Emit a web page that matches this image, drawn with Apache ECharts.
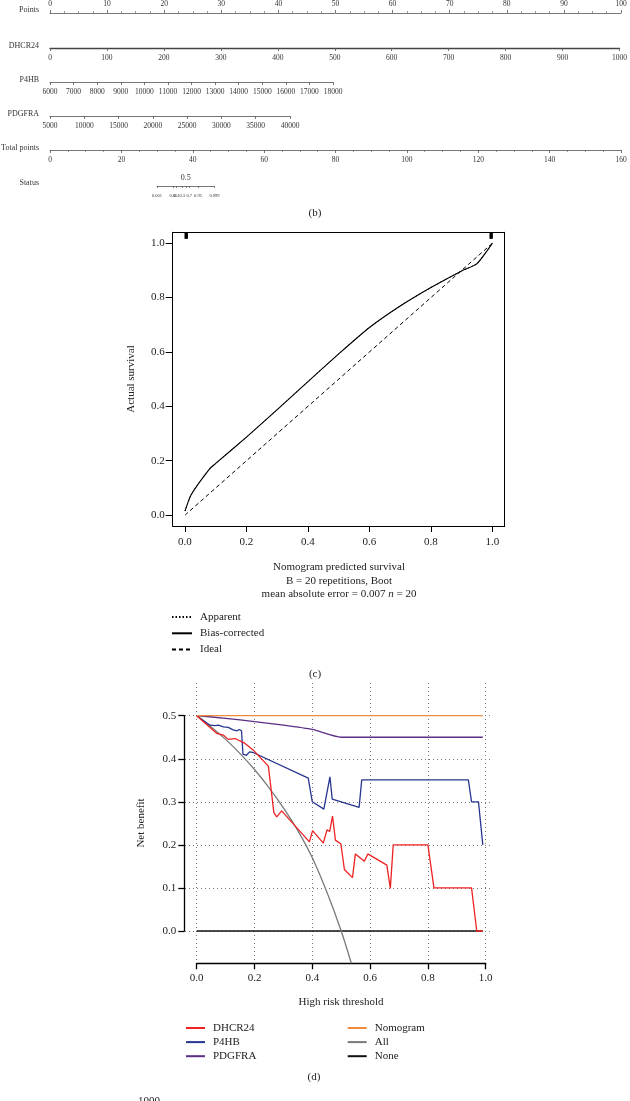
<!DOCTYPE html>
<html><head><meta charset="utf-8">
<script src="https://cdn.jsdelivr.net/npm/echarts@6/dist/echarts.min.js"></script>
<style>html,body{margin:0;padding:0;background:#fff}#c{width:630px;height:1101px}</style>
</head><body><div id="c"></div><script>
// ---------------- DATA ----------------
// Nomogram (b): axis scales [min, max, step]
const nomoLabels = ['Points', 'DHCR24', 'P4HB', 'PDGFRA', 'Total points', 'Status'];
const pointsScale = [0, 100, 10];
const dhcr24Scale = [0, 1000, 100];
const p4hbScale = [6000, 18000, 1000];
const pdgfraScale = [5000, 40000, 5000];
const totalScale = [0, 160, 20];
const statusTicks = [0.001, 0.05, 0.1, 0.3, 0.5, 0.7, 0.95, 0.999];
const statusTopTicks = [0.5];

// Calibration (c)
const calTicks = [0, 0.2, 0.4, 0.6, 0.8, 1.0];
const calX = [0, 0.02, 0.08, 0.1, 0.2, 0.3, 0.4, 0.5, 0.6, 0.7, 0.8, 0.9, 0.95, 1.0];
const calApparent = [0.015, 0.075, 0.17, 0.19, 0.287, 0.388, 0.491, 0.593, 0.69, 0.769, 0.837, 0.898, 0.925, 1.0];
const calBiasCorrected = [0.015, 0.075, 0.17, 0.19, 0.287, 0.388, 0.491, 0.593, 0.69, 0.769, 0.837, 0.898, 0.925, 1.0];
const calIdealX = [0, 1];
const calIdealY = [0, 1];
const calRug = [0.001, 0.004, 0.007, 0.993, 0.996, 0.999];

// Decision curve (d): [threshold, net benefit]
const dcaDHCR24 = [[0,0.5],[0.069,0.459],[0.092,0.455],[0.109,0.445],[0.133,0.447],[0.164,0.437],[0.196,0.42],[0.248,0.383],[0.267,0.275],[0.277,0.265],[0.294,0.279],[0.39,0.207],[0.401,0.233],[0.438,0.204],[0.451,0.235],[0.46,0.231],[0.47,0.267],[0.48,0.211],[0.499,0.202],[0.511,0.143],[0.539,0.124],[0.549,0.179],[0.58,0.162],[0.592,0.179],[0.658,0.153],[0.67,0.099],[0.68,0.2],[0.8,0.2],[0.821,0.1],[0.951,0.1],[0.969,0],[0.99,0]];
const dcaP4HB = [[0,0.5],[0.046,0.478],[0.063,0.477],[0.075,0.478],[0.092,0.474],[0.109,0.473],[0.126,0.467],[0.14,0.465],[0.147,0.468],[0.155,0.465],[0.16,0.411],[0.172,0.408],[0.183,0.416],[0.197,0.414],[0.386,0.355],[0.4,0.3],[0.44,0.283],[0.461,0.358],[0.469,0.306],[0.562,0.287],[0.571,0.351],[0.94,0.351],[0.951,0.3],[0.975,0.3],[0.99,0.2]];
const dcaPDGFRA = [[0,0.5],[0.1,0.494],[0.2,0.486],[0.3,0.478],[0.4,0.468],[0.5,0.45],[0.99,0.45]];
const dcaNomogram = [[0,0.5],[0.99,0.5]];
const dcaAll = [[0,0.5],[0.05,0.474],[0.1,0.445],[0.15,0.412],[0.2,0.375],[0.25,0.333],[0.3,0.286],[0.35,0.233],[0.4,0.17],[0.45,0.091],[0.5,0.0],[0.535,-0.075]];
const dcaNone = [[0,0],[0.99,0]];
const dcaXTicks = [0, 1, 0.2];
const dcaYTicks = [0, 0.5, 0.1];

// ---------------- CHART ----------------
const SERIF = 'Liberation Serif';
const logit = p => Math.log(p / (1 - p));
const statusLabel = v => { const t = statusTicks.find(p => Math.abs(logit(p) - v) < 1e-6); return t === undefined ? '' : String(t); };
const plain = v => String(v);
const fix1 = v => (Math.round(v * 10) / 10).toFixed(1);

const nomoAxisColor = '#555';
function nomoX(gi, scale, pos, extra) {
  return Object.assign({
    gridIndex: gi, type: 'value', min: scale[0], max: scale[1], interval: scale[2], position: pos,
    axisLine: { show: true, onZero: false, lineStyle: { color: nomoAxisColor, width: 0.8 } },
    axisTick: { show: true, length: 3, lineStyle: { color: nomoAxisColor, width: 0.8 } },
    axisLabel: { show: true, fontFamily: SERIF, fontSize: 7.5, color: '#333', margin: 6, formatter: plain },
    splitLine: { show: false }
  }, extra || {});
}
const hiddenY = gi => ({ gridIndex: gi, type: 'value', show: false, min: 0, max: 1, splitLine: { show: false } });

// nomogram row geometry: [left, width, axisY]
const nomoGeo = [[50, 571, 13], [50, 571, 48], [50, 283, 82], [50, 240, 116], [50, 571, 150], [157, 57.5, 186]];
const grids = nomoGeo.map((g, i) => ({ left: g[0], width: g[1], top: i === 0 ? g[2] : g[2] - 1, height: 1 }));
// calibration plot box (6)
grids.push({ left: 172.7, right: 125.3, top: 232.3, bottom: 575 });
// DCA: vertical dotted grid (7), horizontal dotted grid (8), data grid (9)
grids.push({ left: 196.7, right: 144.3, top: 683, bottom: 141 });
grids.push({ left: 185, right: 138, top: 715.7, bottom: 170 });
grids.push({ left: 196.7, right: 144.3, top: 715.7, bottom: 170 });

const minor = { show: true, splitNumber: 4, length: 2, lineStyle: { color: nomoAxisColor, width: 0.6 } };
const calLab = { fontFamily: SERIF, fontSize: 11, color: '#222', formatter: fix1, customValues: calTicks };
const calAxis = (pos, withTicks, extra) => Object.assign({ gridIndex: 6, type: 'value', min: -0.04, max: 1.04, position: pos,
  axisLine: { show: true, onZero: false, lineStyle: { color: '#000', width: 1 } },
  axisTick: { show: withTicks, length: 6, customValues: calTicks, lineStyle: { color: '#000', width: 1 } },
  axisLabel: Object.assign({ show: withTicks, margin: 11 }, calLab),
  splitLine: { show: false } }, extra || {});

const xAxes = [
  nomoX(0, pointsScale, 'top', { minorTick: minor, axisLabel: { fontFamily: SERIF, fontSize: 7.5, color: '#333', margin: 5, formatter: plain } }),
  nomoX(1, dhcr24Scale, 'bottom', { axisLine: { show: true, onZero: false, lineStyle: { color: '#444', width: 1.3 } } }),
  nomoX(2, p4hbScale, 'bottom'),
  nomoX(3, pdgfraScale, 'bottom'),
  nomoX(4, totalScale, 'bottom', { minorTick: minor }),
  nomoX(5, [logit(0.001), logit(0.999), 1], 'bottom', {
    axisTick: { show: true, length: 2, customValues: statusTicks.map(logit), lineStyle: { color: nomoAxisColor, width: 0.7 } },
    axisLabel: { show: true, customValues: statusTicks.filter(p => statusTopTicks.indexOf(p) < 0).map(logit), formatter: statusLabel, fontFamily: SERIF, fontSize: 4.5, color: '#333', margin: 7 }
  }),
  nomoX(5, [logit(0.001), logit(0.999), 1], 'top', {
    axisLine: { show: false, onZero: false }, axisTick: { show: false },
    axisLabel: { show: true, customValues: statusTopTicks.map(logit), formatter: statusLabel, fontFamily: SERIF, fontSize: 8, color: '#333', margin: 3 }
  }),
  // calibration: bottom (7), top (8)
  calAxis('bottom', true),
  calAxis('top', false),
  // DCA vertical dotted lines (9)
  { gridIndex: 7, type: 'value', min: dcaXTicks[0], max: dcaXTicks[1], interval: dcaXTicks[2], axisLine: { show: false, onZero: false }, axisTick: { show: false }, axisLabel: { show: false },
    splitLine: { show: true, lineStyle: { color: '#777', width: 1, type: [1, 3] } } },
  // DCA horizontal grid helper x (10)
  { gridIndex: 8, type: 'value', show: false, min: 0, max: 1, splitLine: { show: false } },
  // DCA data x (11)
  { gridIndex: 9, type: 'value', min: dcaXTicks[0], max: dcaXTicks[1], interval: dcaXTicks[2], offset: 32.3, position: 'bottom',
    axisLine: { show: true, onZero: false, lineStyle: { color: '#000', width: 1.3 } }, axisTick: { show: true, length: 6, lineStyle: { color: '#000', width: 1.3 } },
    axisLabel: { fontFamily: SERIF, fontSize: 11, color: '#222', margin: 9, formatter: fix1 },
    splitLine: { show: false } }
];
const yAxes = [0, 1, 2, 3, 4, 5].map(hiddenY);
// calibration left (6), right (7)
yAxes.push(calAxis('left', true, { axisTick: { show: true, length: 7, customValues: calTicks, lineStyle: { color: '#000', width: 1 } },
  axisLabel: Object.assign({ show: true, margin: 8 }, calLab) }));
yAxes.push(calAxis('right', false));
// DCA vertical helper y (8)
yAxes.push({ gridIndex: 7, type: 'value', show: false, min: 0, max: 1, splitLine: { show: false } });
// DCA horizontal dotted (9)
yAxes.push({ gridIndex: 8, type: 'value', min: dcaYTicks[0], max: dcaYTicks[1], interval: dcaYTicks[2], axisLine: { show: false, onZero: false }, axisTick: { show: false }, axisLabel: { show: false },
  splitLine: { show: true, lineStyle: { color: '#777', width: 1, type: [1, 3] } } });
// DCA data y (10)
yAxes.push({ gridIndex: 9, type: 'value', min: dcaYTicks[0], max: dcaYTicks[1], interval: dcaYTicks[2], offset: 12.4, position: 'left',
  axisLine: { show: true, onZero: false, lineStyle: { color: '#000', width: 1.3 } }, axisTick: { show: true, length: 6, lineStyle: { color: '#000', width: 1.3 } },
  axisLabel: { fontFamily: SERIF, fontSize: 11, color: '#222', margin: 8, formatter: fix1 },
  splitLine: { show: false } });

const CAL_X = 7, CAL_Y = 6, DCA_X = 11, DCA_Y = 10;
const zip = (xs, ys) => xs.map((x, i) => [x, ys[i]]);
const calLine = (name, xs, ys, type, w) => ({ name, type: 'line', xAxisIndex: CAL_X, yAxisIndex: CAL_Y, data: zip(xs, ys), symbol: 'none', smooth: 0.2, clip: false,
  lineStyle: { color: '#000', width: w, type }, itemStyle: { color: '#000' } });
const dcaLine = (name, data, color, smooth) => ({ name, type: 'line', xAxisIndex: DCA_X, yAxisIndex: DCA_Y, data, symbol: 'none', smooth: smooth || false, clip: false,
  lineStyle: { color, width: 1.3 }, itemStyle: { color } });

const series = [
  calLine('Apparent', calX, calApparent, [1.5, 2], 1),
  calLine('Bias-corrected', calX, calBiasCorrected, 'solid', 1.1),
  calLine('Ideal', calIdealX, calIdealY, [4, 3], 1),
  { name: 'rug', type: 'custom', xAxisIndex: CAL_X, yAxisIndex: CAL_Y, data: calRug.map(x => [x, 1.03]),
    renderItem: (params, api) => {
      const a = api.coord([api.value(0), 1.038]);
      const b = api.coord([api.value(0), 1.016]);
      return { type: 'line', shape: { x1: a[0], y1: a[1], x2: b[0], y2: b[1] }, style: { stroke: '#000', lineWidth: 1.6 } };
    } },
  dcaLine('None', dcaNone, '#111'),
  dcaLine('All', dcaAll, '#7a7a7a', 0.3),
  dcaLine('PDGFRA', dcaPDGFRA, '#5b2d86', 0.2),
  dcaLine('P4HB', dcaP4HB, '#27358f'),
  dcaLine('DHCR24', dcaDHCR24, '#ee2222'),
  dcaLine('Nomogram', dcaNomogram, '#f08a3c')
];

const txt = (text, x, y, size, align, extra) => Object.assign({ type: 'text', x, y, silent: true,
  style: { text, fill: '#222', font: size + 'px "' + SERIF + '"', align: align || 'center', verticalAlign: 'middle' } }, extra || {});

const graphic = [];
nomoLabels.forEach((t, i) => graphic.push({ type: 'text', x: 39, y: [10, 46, 80, 114, 148, 183][i], silent: true,
  style: { text: t, fill: '#333', font: '8px "' + SERIF + '"', align: 'right', verticalAlign: 'middle' } }));
graphic.push(txt('(b)', 315, 213, 11));
graphic.push(txt('Actual survival', 131, 379, 11, 'center', { rotation: Math.PI / 2 }));
graphic.push(txt('Nomogram predicted survival', 339, 567, 11));
graphic.push(txt('B = 20 repetitions, Boot', 339, 581, 11));
graphic.push({ type: 'text', x: 339, y: 594, silent: true, style: { text: '{a|mean absolute error = 0.007 }{i|n}{a| = 20}', align: 'center', verticalAlign: 'middle',
  rich: { a: { fontFamily: SERIF, fontSize: 11, fill: '#222', color: '#222' }, i: { fontFamily: SERIF, fontSize: 11, fontStyle: 'italic', fill: '#222', color: '#222' } } } });
graphic.push(txt('(c)', 315, 674, 11));
graphic.push(txt('Net benefit', 141, 823, 11, 'center', { rotation: Math.PI / 2 }));
graphic.push(txt('High risk threshold', 341, 1002, 11));
graphic.push(txt('(d)', 314, 1077, 11));
graphic.push(txt('1000', 160, 1101, 11, 'right'));

const legTxt = { fontFamily: SERIF, fontSize: 11, color: '#222', lineHeight: 12, padding: [0, 0, 0, 3] };
const legCommon = { orient: 'vertical', padding: 0, textStyle: legTxt, selectedMode: false, itemStyle: { opacity: 0 } };
const legend = [
  Object.assign({ data: ['Apparent', 'Bias-corrected', 'Ideal'], left: 171, top: 611, itemWidth: 20, itemHeight: 10, itemGap: 4.3 }, legCommon),
  Object.assign({ data: ['DHCR24', 'P4HB', 'PDGFRA'], left: 185, top: 1022, itemWidth: 19, itemHeight: 8, itemGap: 2.1 }, legCommon),
  Object.assign({ data: ['Nomogram', 'All', 'None'], left: 346.7, top: 1022, itemWidth: 19, itemHeight: 8, itemGap: 2.1 }, legCommon)
];

const chart = echarts.init(document.getElementById('c'), null, { renderer: 'canvas' });
chart.setOption({ animation: false, backgroundColor: '#fff', grid: grids, xAxis: xAxes, yAxis: yAxes, series, graphic, legend });
</script></body></html>
